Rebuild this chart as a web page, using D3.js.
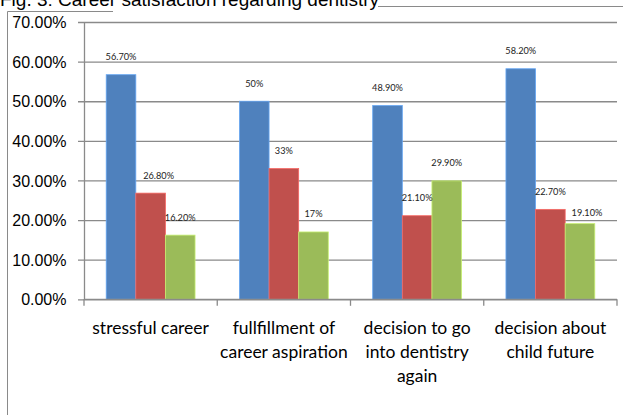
<!DOCTYPE html>
<html>
<head>
<meta charset="utf-8">
<script src="https://cdn.jsdelivr.net/npm/d3@7"></script>
<style>
  html, body { margin: 0; padding: 0; background: #fff; }
  svg { display: block; }
</style>
</head>
<body>
<svg id="chart" width="623" height="415"></svg>
<script>
// Career satisfaction regarding dentistry — three response groups per question
const categories = [
  "stressful career",
  "fullfillment of\ncareer aspiration",
  "decision to go\ninto dentistry\nagain",
  "decision about\nchild future"
];
const seriesNames = ["Series1", "Series2", "Series3"];
const series1 = [56.7, 50, 48.9, 58.2];
const series2 = [26.8, 33, 21.1, 22.7];
const series3 = [16.2, 17, 29.9, 19.1];
const yTicks = [0, 10, 20, 30, 40, 50, 60, 70];
const titleText = "Fig. 3: Career satisfaction regarding dentistry";

const seriesValues = [series1, series2, series3];
const colors = ["#4F81BD", "#C0504D", "#9BBB59"];

// hand-placed label nudges (series index, category index, dx, dy) to avoid collisions
const labelNudges = [
  [1, 0, 8, 0],
  [2, 3, 7, 7]
];

const svg = d3.select("#chart");
const W = 623, H = 415;
const plot = { left: 84, right: 617, top: 22, bottom: 299.3 };

// outer frame (partly hidden behind the title strip)
const frame = svg.append("g").attr("stroke", "#8a8a8a").attr("stroke-width", 1).attr("fill", "none");
frame.append("line").attr("x1", 7.5).attr("x2", 7.5).attr("y1", 11.5).attr("y2", H);
frame.append("line").attr("x1", 7.5).attr("x2", 113).attr("y1", 11.5).attr("y2", 11.5);
frame.append("line").attr("x1", 378).attr("x2", W).attr("y1", 6.5).attr("y2", 6.5);

// title, partly cut by the top edge
svg.append("text")
  .attr("x", 0).attr("y", 6)
  .attr("font-family", "'Liberation Sans', Arial, sans-serif")
  .attr("font-size", 19)
  .attr("fill", "#000")
  .text(titleText);

const y = d3.scaleLinear().domain([0, 70]).range([plot.bottom, plot.top]);
const x = d3.scaleBand().domain(categories).range([plot.left, plot.right]).paddingInner(0).paddingOuter(0);
const xs = d3.scaleBand().domain(seriesNames).range([0, x.bandwidth()]).paddingInner(0).paddingOuter(0.75);

// horizontal gridlines with left tick marks
const yAxis = d3.axisLeft(y)
  .tickValues(yTicks)
  .tickSize(-(plot.right - plot.left))
  .tickSizeOuter(0)
  .tickFormat(d => d.toFixed(2) + "%");
const gy = svg.append("g").attr("transform", `translate(${plot.left},0)`).call(yAxis);
gy.select(".domain").attr("stroke", "#8a8a8a").attr("stroke-width", 1.3);
gy.selectAll(".tick line").attr("stroke", "#8a8a8a").attr("stroke-width", 1.3).attr("x2", plot.right - plot.left).attr("x1", -6);
gy.selectAll(".tick text")
  .attr("x", -17.5)
  .attr("dy", "0.35em")
  .attr("font-family", "'Liberation Sans', Arial, sans-serif")
  .attr("font-size", 16)
  .attr("fill", "#000");

// bars
const flat = [];
seriesValues.forEach((vals, si) => vals.forEach((v, ci) => flat.push({ si, ci, v })));

svg.append("g").selectAll("rect").data(flat).join("rect")
  .attr("x", d => x(categories[d.ci]) + xs(seriesNames[d.si]))
  .attr("width", xs.bandwidth())
  .attr("y", d => y(d.v))
  .attr("height", d => y(0) - y(d.v))
  .attr("fill", d => colors[d.si])
  .attr("stroke", d => d3.color(colors[d.si]).brighter(0.7))
  .attr("stroke-width", 0.8);

// category axis with boundary ticks
const gx = svg.append("g").attr("transform", `translate(0,${plot.bottom})`);
gx.append("line").attr("x1", plot.left).attr("x2", plot.right).attr("stroke", "#8a8a8a").attr("stroke-width", 1.3);
const bounds = categories.map(c => x(c)).concat([x(categories[categories.length - 1]) + x.bandwidth()]);
gx.selectAll("line.b").data(bounds).join("line").attr("class", "b")
  .attr("x1", d => d).attr("x2", d => d).attr("y1", 0).attr("y2", 6.5)
  .attr("stroke", "#8a8a8a").attr("stroke-width", 1.3);

const catText = svg.append("g").selectAll("text").data(categories).join("text")
  .attr("text-anchor", "middle")
  .attr("font-family", "Lato, 'Open Sans', sans-serif")
  .attr("font-size", 17.5)
  .attr("fill", "#000");
catText.each(function (c) {
  const t = d3.select(this);
  c.split("\n").forEach((line, i) => {
    t.append("tspan")
      .attr("x", x(c) + x.bandwidth() / 2)
      .attr("y", plot.bottom + 34.5 + i * 24)
      .text(line);
  });
});

// value labels above bars
const fmt = v => (Number.isInteger(v) ? v : v.toFixed(2)) + "%";
const nudge = d => {
  const n = labelNudges.find(a => a[0] === d.si && a[1] === d.ci);
  return n ? [n[2], n[3]] : [0, 0];
};
svg.append("g").selectAll("text").data(flat).join("text")
  .attr("text-anchor", "middle")
  .attr("font-family", "Lato, 'Open Sans', sans-serif")
  .attr("font-size", 9.2)
  .attr("fill", "#222")
  .attr("x", d => x(categories[d.ci]) + xs(seriesNames[d.si]) + xs.bandwidth() / 2 + nudge(d)[0])
  .attr("y", d => y(d.v) - 14.5 + nudge(d)[1])
  .text(d => fmt(d.v));
</script>
</body>
</html>
